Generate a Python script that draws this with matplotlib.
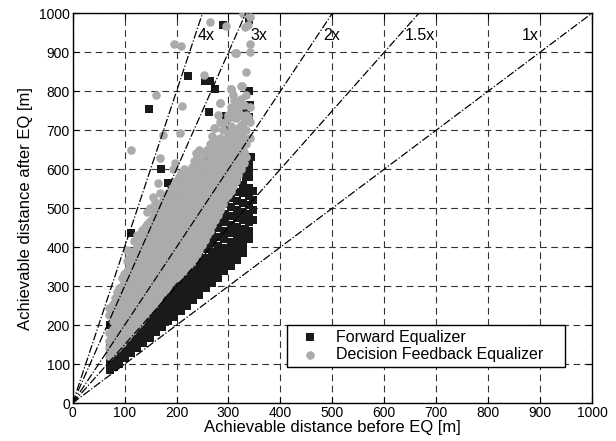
# plot.py
# Achievable distance before / after EQ (scatter + ratio lines)

import numpy as np
import matplotlib
matplotlib.use("Agg")
import matplotlib.pyplot as plt

plt.rcParams["font.family"] = ["Liberation Sans", "DejaVu Sans"]

# ----------------------------
# data
# ----------------------------
# Forward Equalizer: dense band, column by column
fwd_col_x = [72, 80, 90, 100, 112, 124, 136, 148, 160, 172, 184, 196, 208,
             220, 232, 244, 256, 268, 280, 292, 304, 316, 328, 340, 348]
fwd_col_y = [
    [85, 100, 115, 130, 145],
    [92, 108, 124, 140, 156],
    [100, 116, 132, 148, 164, 180],
    [115, 130, 146, 162, 178, 194],
    [128, 144, 160, 176, 192, 210],
    [140, 156, 172, 188, 204, 222, 240],
    [155, 170, 186, 202, 218, 236, 254],
    [168, 184, 200, 216, 232, 250, 270],
    [182, 198, 214, 230, 248, 266, 286],
    [196, 212, 228, 246, 264, 282, 300],
    [210, 226, 244, 262, 280, 298, 318],
    [222, 240, 258, 276, 294, 314, 334],
    [236, 254, 272, 290, 310, 330, 350],
    [250, 268, 286, 306, 326, 346, 368],
    [264, 282, 300, 320, 340, 362, 384],
    [278, 296, 316, 336, 356, 378, 400, 430],
    [294, 312, 332, 352, 372, 394, 416, 445],
    [308, 328, 348, 368, 388, 410, 432, 455],
    [322, 342, 362, 382, 404, 426, 448, 470, 495, 520],
    [338, 358, 378, 398, 420, 442, 464, 486, 510, 535],
    [352, 372, 392, 414, 436, 458, 480, 502, 526, 550],
    [368, 388, 408, 430, 452, 474, 496, 518, 542, 566, 590],
    [385, 405, 425, 447, 469, 491, 514, 538, 560, 590, 610],
    [420, 442, 464, 486, 508, 530, 552, 580, 600, 620],
    [470, 495, 520, 545],
]
# Forward Equalizer: scattered points
fwd_out_x = [72, 113, 135, 147, 170, 183, 195, 197, 200, 210, 212, 226, 232,
             238, 238, 258, 264, 222, 255, 264, 274, 289, 339, 339, 342, 334,
             339, 296, 302, 262, 328, 344, 334, 331, 318]
fwd_out_y = [200, 436, 426, 754, 600, 564, 533, 487, 538, 485, 572, 559, 503,
             559, 615, 631, 452, 839, 826, 826, 805, 969, 982, 800, 764, 751,
             733, 736, 700, 747, 615, 631, 580, 444, 414]

# Decision Feedback Equalizer: dense band, column by column
dfe_col_x = [70, 78, 86, 95, 104, 114, 124, 134, 144, 154, 164, 174, 184,
             194, 204, 214, 224, 234, 244, 254, 264, 274, 284, 294, 304, 314,
             324, 334, 342]
dfe_col_y = [
    [120, 140, 160, 180, 225, 245],
    [130, 150, 170, 190, 210, 230, 255],
    [140, 160, 180, 200, 220, 240, 262, 285],
    [155, 175, 195, 215, 235, 255, 275, 300, 320],
    [170, 190, 210, 230, 250, 270, 292, 315, 340, 365, 392],
    [185, 205, 225, 245, 265, 285, 305, 330, 355, 380],
    [200, 220, 240, 260, 280, 300, 322, 345, 370, 400, 430],
    [215, 235, 255, 275, 295, 315, 338, 362, 388, 415, 443],
    [235, 255, 275, 295, 315, 335, 358, 380, 405, 430, 460, 490],
    [250, 270, 290, 310, 330, 352, 375, 398, 422, 448, 475, 529],
    [268, 288, 308, 328, 350, 372, 395, 420, 445, 470, 500, 564],
    [285, 305, 325, 345, 367, 390, 414, 438, 462, 490, 520],
    [300, 320, 340, 362, 385, 408, 432, 456, 480, 508, 540],
    [318, 338, 358, 380, 402, 425, 450, 475, 500, 528, 560, 600],
    [325, 350, 377, 400, 422, 445, 470, 495, 520, 548, 580],
    [340, 365, 390, 418, 440, 464, 488, 512, 540, 570, 600],
    [355, 380, 405, 436, 460, 484, 508, 534, 560, 590],
    [370, 395, 420, 450, 480, 505, 530, 556, 585, 620],
    [392, 420, 448, 476, 500, 525, 550, 578, 610, 650],
    [418, 445, 472, 496, 520, 546, 572, 600, 640],
    [442, 470, 494, 518, 544, 570, 598, 630, 665],
    [470, 495, 518, 540, 566, 595, 625, 660, 705],
    [495, 520, 545, 568, 592, 620, 650, 680, 720, 769],
    [525, 550, 575, 600, 625, 650, 678],
    [545, 572, 598, 625, 650, 675, 710, 760, 805],
    [570, 598, 625, 655, 690, 730, 770, 898],
    [600, 628, 660, 690, 713, 740, 780, 813],
    [630, 665, 700, 740, 790, 850],
    [680, 720, 760, 900, 920, 990],
]
# second, staggered set of columns (fills the gaps of the first one)
dfe_col2_x = [74, 82, 90, 99, 109, 119, 129, 139, 149, 159, 169, 179, 189,
              199, 209, 219, 229, 239, 249, 259, 269, 279, 289, 299, 309, 319,
              329]
dfe_col2_y = [
    [135, 155, 175, 235],
    [145, 165, 185, 205, 225, 245, 270],
    [150, 170, 190, 210, 230, 250, 272, 295],
    [165, 185, 205, 225, 245, 265, 288, 310, 332],
    [178, 198, 218, 238, 258, 278, 300, 322, 348, 372],
    [192, 212, 232, 252, 272, 292, 314, 338, 362, 390, 415],
    [208, 228, 248, 268, 288, 308, 330, 354, 378, 402, 430],
    [225, 245, 265, 285, 305, 325, 348, 372, 396, 422, 452],
    [242, 262, 282, 302, 322, 344, 366, 390, 414, 440, 468, 500],
    [260, 280, 300, 320, 340, 362, 385, 408, 434, 460, 488, 515],
    [276, 296, 316, 338, 360, 382, 405, 428, 452, 478, 505, 540],
    [292, 312, 333, 355, 376, 398, 422, 446, 470, 498, 530],
    [310, 330, 350, 372, 394, 416, 440, 464, 490, 516, 548],
    [322, 346, 368, 390, 412, 436, 460, 486, 512, 540, 570],
    [335, 358, 382, 406, 430, 454, 478, 502, 528, 556, 590],
    [350, 372, 396, 425, 450, 474, 498, 522, 548, 578],
    [362, 388, 412, 440, 468, 494, 518, 545, 572, 605],
    [382, 408, 435, 462, 490, 515, 540, 566, 598, 635],
    [405, 432, 460, 486, 510, 535, 560, 588, 622],
    [430, 458, 482, 506, 532, 558, 585, 615, 650],
    [456, 482, 506, 530, 555, 582, 610, 645, 685],
    [482, 508, 530, 554, 580, 608, 638, 670, 740],
    [510, 532, 556, 582, 606, 634, 664, 700],
    [535, 560, 588, 612, 638, 662, 694, 740],
    [558, 585, 612, 640, 665, 700, 735, 790],
    [585, 612, 640, 672, 705, 750],
    [615, 645, 680, 720, 765],
]
# Decision Feedback Equalizer: scattered points
dfe_out_x = [113, 161, 174, 197, 195, 209, 206, 210, 238, 258, 252, 264, 296,
             312, 314, 328, 337, 331, 304, 327, 284, 272, 289, 326, 310, 322,
             305, 300, 337, 309, 270, 283, 306, 168, 290, 318]
dfe_out_y = [649, 790, 687, 615, 922, 915, 692, 763, 641, 649, 841, 978, 967,
             897, 898, 997, 970, 965, 805, 813, 769, 705, 670, 713, 778, 765,
             745, 730, 734, 688, 674, 653, 666, 628, 718, 757]

# ratio lines (after = k * before) and their labels
ratio_k = [4, 3, 2, 1.5, 1]
ratio_lbl = ["4x", "3x", "2x", "1.5x", "1x"]
lbl_x = [241, 342, 483, 640, 864]
lbl_y = 944

x_ticks = np.arange(0, 1001, 100)
y_ticks = np.arange(0, 1001, 100)


def flatten(col_x, col_y):
    xs, ys = [], []
    for x, col in zip(col_x, col_y):
        xs += [x] * len(col)
        ys += col
    return xs, ys


def main():
    fx, fy = flatten(fwd_col_x, fwd_col_y)
    fx = np.array(fx + fwd_out_x)
    fy = np.array(fy + fwd_out_y)
    dx1, dy1 = flatten(dfe_col_x, dfe_col_y)
    dx2, dy2 = flatten(dfe_col2_x, dfe_col2_y)
    dx = np.array(dx1 + dx2 + dfe_out_x)
    dy = np.array(dy1 + dy2 + dfe_out_y)

    fig = plt.figure(figsize=(6.16, 4.41), dpi=100)
    ax = fig.add_axes([0.118, 0.086, 0.843, 0.884])

    ax.scatter(fx, fy, marker="s", s=30, color="#1a1a1a", linewidths=0,
               label="Forward Equalizer", zorder=3)
    ax.scatter(dx, dy, marker="o", s=38, color="#ababab", linewidths=0,
               label="Decision Feedback Equalizer", zorder=4)

    # ratio lines
    xx = np.array([0, 1000])
    for k in ratio_k:
        ax.plot(xx, k * xx, color="black", linestyle="-.", linewidth=0.9,
                zorder=5)
    for t, x in zip(ratio_lbl, lbl_x):
        ax.text(x, lbl_y, t, fontsize=11.5, va="center", ha="left", zorder=6)

    ax.set_xlim(0, 1000)
    ax.set_ylim(0, 1000)
    ax.set_xticks(x_ticks)
    ax.set_yticks(y_ticks)
    ax.tick_params(direction="in", top=True, right=True, labelsize=10,
                   length=4, pad=2)
    ax.grid(True, color="0.2", linestyle=(0, (6, 4)), linewidth=0.8)
    ax.set_axisbelow(True)
    for sp in ax.spines.values():
        sp.set_linewidth(1.0)

    ax.set_xlabel("Achievable distance before EQ [m]", fontsize=12, labelpad=0)
    ax.set_ylabel("Achievable distance after EQ [m]", fontsize=12, labelpad=4)

    # legend box stretched to the width seen in the reference
    leg = ax.legend(loc="lower left", bbox_to_anchor=(0.413, 0.093, 0.535, 0.107),
                    mode="expand", borderaxespad=0, fontsize=11.5,
                    fancybox=False, framealpha=1, edgecolor="black",
                    handletextpad=0.45, borderpad=0.3, labelspacing=0.15,
                    handlelength=2.3)
    leg.get_frame().set_linewidth(1.0)
    leg.set_zorder(10)

    fig.savefig("out.png", dpi=100)
    plt.close(fig)


if __name__ == "__main__":
    main()
